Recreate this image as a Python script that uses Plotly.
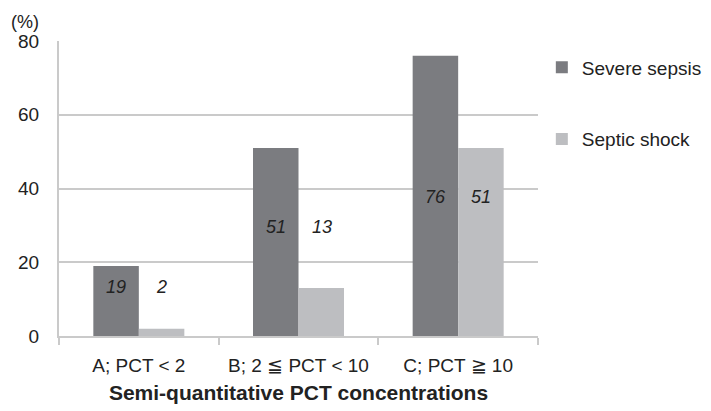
import plotly.graph_objects as go

categories = ["A; PCT < 2", "B; 2 ≦ PCT < 10", "C; PCT ≧ 10"]
severe_sepsis = [19, 51, 76]
septic_shock = [2, 13, 51]
label_y = [13.3, 29.5, 37.7]
y_ticks = [0, 20, 40, 60, 80]

dark = "#7b7c80"
light = "#bdbec1"
grid = "#cacaca"
font_family = "Liberation Sans, Arial, sans-serif"

fig = go.Figure()
fig.add_trace(go.Bar(x=categories, y=severe_sepsis, name="Severe sepsis",
                     marker=dict(color=dark, line=dict(width=0)), legendgroup="a"))
fig.add_trace(go.Bar(x=categories, y=septic_shock, name="Septic shock",
                     marker=dict(color=light, line=dict(width=0)), legendgroup="b"))

for i, c in enumerate(categories):
    for val, shift in ((severe_sepsis[i], -23), (septic_shock[i], 23)):
        fig.add_annotation(x=c, y=label_y[i], xref="x", yref="y", xshift=shift,
                           text=f"<i>{val}</i>", showarrow=False,
                           font=dict(size=18, color="#222222", family=font_family))

fig.add_annotation(x=0, y=1, xref="paper", yref="paper", xanchor="left", yanchor="top",
                   xshift=-50, yshift=31, text="(%)", showarrow=False,
                   font=dict(size=18, color="#222222", family=font_family))

fig.update_layout(
    width=711, height=411,
    margin=dict(l=51, r=173, t=33, b=83),
    paper_bgcolor="white", plot_bgcolor="white",
    barmode="group", bargap=0.43, bargroupgap=0,
    font=dict(family=font_family, color="#222222"),
    showlegend=True,
    legend=dict(x=1.008, xanchor="left", y=0.975, yanchor="top",
                font=dict(size=19, color="#222222", family=font_family),
                tracegroupgap=44, bgcolor="rgba(0,0,0,0)"),
    xaxis=dict(showline=True, linecolor=grid, linewidth=2, automargin=False,
               ticks="outside", tickson="boundaries", ticklen=7, tickcolor=grid, tickwidth=2,
               tickfont=dict(size=19, color="#222222"), ticklabelstandoff=11,
               title=dict(text="<b>Semi-quantitative PCT concentrations</b>",
                          font=dict(size=21, color="#222222"), standoff=11)),
    yaxis=dict(range=[0, 80], tickvals=y_ticks, showgrid=True, gridcolor=grid, gridwidth=2,
               showline=True, linecolor=grid, linewidth=2, zeroline=False, automargin=False,
               tickfont=dict(size=19, color="#222222"), ticks="", ticklabelstandoff=14),
)

fig.write_html("out.html")
